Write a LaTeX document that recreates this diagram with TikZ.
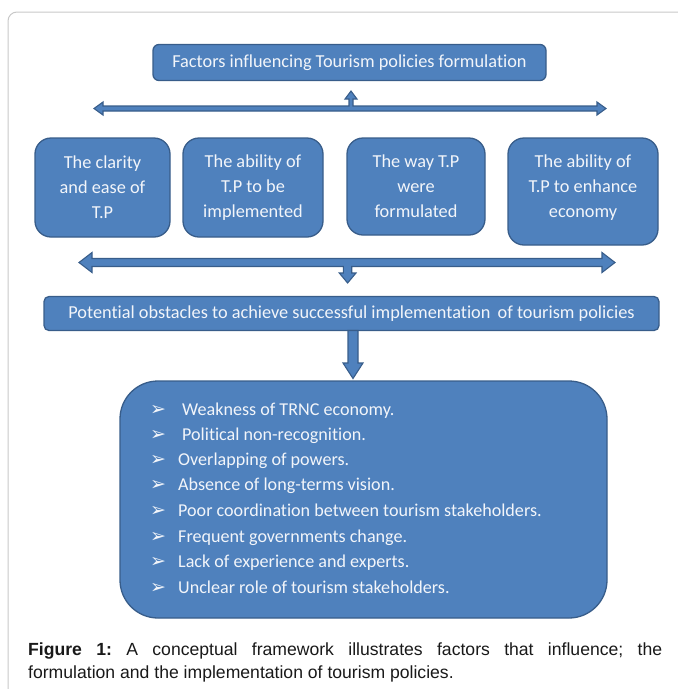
\documentclass[tikz,border=0pt]{standalone}
\usepackage{fontspec}
\setmainfont{Carlito}[RawFeature={-liga}]
\newfontfamily\capfont{Liberation Sans}
\newfontfamily\symfont{DejaVu Sans}
\definecolor{boxblue}{HTML}{4F81BD}
\definecolor{boxline}{HTML}{385D8A}
\definecolor{txtcol}{HTML}{F2F5FA}
\definecolor{framegray}{HTML}{C8C8C8}
\begin{document}
\begin{tikzpicture}[x=1pt,y=-1pt,
  bluebox/.style={draw=boxline, fill=boxblue, line width=1.3pt, rounded corners=#1,
    text=txtcol, inner sep=0pt, align=center, font=\fontsize{18.3}{25}\selectfont},
  bluebox/.default=7pt,
  plaintext/.style={inner sep=0pt, align=center, text=txtcol, font=\fontsize{18.3}{25}\selectfont},
  blockarrow/.style={draw=boxline, fill=boxblue, line width=1.1pt, line join=miter},
  itemline/.style={anchor=base west, inner sep=0pt, text=txtcol, font=\fontsize{18.1}{20}\selectfont},
  bul/.style={anchor=base west, inner sep=0pt, text=txtcol, font=\symfont\fontsize{19}{19}\selectfont}]
\useasboundingbox (0,0) rectangle (678,689);
\clip (0,0) rectangle (678,689);
% outer frame
\draw[framegray, line width=1pt, rounded corners=9pt] (8,12) rectangle (720,730);

% top box
\node[bluebox=6pt, minimum width=393pt, minimum height=36pt] (top) at (349.5,62.5)
  {Factors influencing Tourism policies formulation};

% four factor boxes
\node[bluebox=16pt, minimum width=135pt, minimum height=99pt] (f1) at (102.5,187.5)
  {The clarity\\and ease of\\T.P};
\node[bluebox=16pt, minimum width=140pt, minimum height=99pt] (f2) at (253,187.5)
  {The ability of\\T.P to be\\implemented};
\node[bluebox=16pt, minimum width=138pt, minimum height=97pt] (f3) at (416,186.5)
  {The way T.P\\were\\formulated};
\node[bluebox=16pt, minimum width=150pt, minimum height=107pt] (f4) at (583,191.5) {};
\node[plaintext] (f4t) at ([yshift=3.5pt]f4.center)
  {The ability of\\T.P to enhance\\economy};

% obstacles box
\node[bluebox=5pt, minimum width=615pt, minimum height=34pt] (obs) at (351.5,313.5)
  {Potential obstacles to achieve successful implementation\, of tourism policies};

% list box
\node[bluebox=38pt, minimum width=487pt, minimum height=237pt] (list) at (363.5,499.5) {};

% top double arrow with up stub
\coordinate (ua) at (351,91);
\draw[blockarrow] (94,108.5) -- (103,102) -- (103,106) -- (349,106) -- (349,99) -- (345,99)
  -- (ua) -- (357,99) -- (353,99) -- (353,106) -- (597,106) -- (597,102) -- (606,108.5)
  -- (597,115) -- (597,111) -- (103,111) -- (103,115) -- cycle;

% second double arrow with down stub
\coordinate (da) at (347.6,283);
\draw[blockarrow] (79,262.5) -- (92,252.5) -- (92,258.5) -- (602,258.5) -- (602,252.5)
  -- (615,262.5) -- (602,272.5) -- (602,266.5) -- (351.7,266.5) -- (351.7,273) -- (356,273)
  -- (da) -- (339.3,273) -- (343.3,273) -- (343.3,266.5) -- (92,266.5) -- (92,272.5) -- cycle;

% big down arrow from obstacles to list
\draw[blockarrow] (348,330.5) -- (358,330.5) -- (358,363) -- (363,363) -- (353,378.5)
  -- (343,363) -- (348,363) -- cycle;

% list items
\foreach \i/\y/\dx/\t in {
  1/415.5/4/{Weakness of TRNC economy.},
  2/440/4/{Political non-recognition.},
  3/465/0/{Overlapping of powers.},
  4/490/0/{Absence of long-terms vision.},
  5/516/0/{Poor coordination between tourism stakeholders.},
  6/542/0/{Frequent governments change.},
  7/567/0/{Lack of experience and experts.},
  8/593/0/{Unclear role of tourism stakeholders.}} {
  \node[bul] (b\i) at (150,\y) {➢};
  \node[itemline] (t\i) at (178+\dx,\y) {\t};
}

% caption
\node[anchor=north west, inner sep=0pt, text width=634pt, align=justify,
  font=\capfont\fontsize{17.6}{23}\selectfont\frenchspacing, text=black!90] (cap) at (28,643)
  {\textbf{Figure 1:} A conceptual framework illustrates factors that influence; the\linebreak
   formulation and the implementation of tourism policies.};
\end{tikzpicture}
\end{document}
